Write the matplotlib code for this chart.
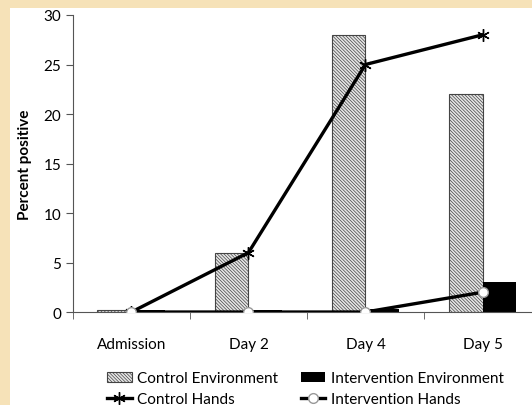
import matplotlib
matplotlib.use("Agg")
import matplotlib.pyplot as plt
from matplotlib.lines import Line2D
from matplotlib.patches import Patch, Rectangle
import numpy as np

plt.rcParams['font.family'] = ['Lato', 'DejaVu Sans']
plt.rcParams['hatch.linewidth'] = 0.5
plt.rcParams['hatch.color'] = '#333333'

days = ["Admission", "Day 2", "Day 4", "Day 5"]
control_env = [0.2, 6, 28, 22]
interv_env = [0.2, 0.2, 0.3, 3]
control_hands = [0, 6, 25, 28]
interv_hands = [0, 0, 0, 2]

fig = plt.figure(figsize=(5.32, 4.06), dpi=100)
fig.patch.set_facecolor('#f6e2b8')
# white card behind the chart
fig.add_artist(Rectangle((0.019, 0), 0.981, 0.978, transform=fig.transFigure,
                         facecolor='white', edgecolor='none', zorder=0))

ax = fig.add_axes([0.137, 0.229, 0.88, 0.7316])
ax.set_facecolor('none')

HATCH = '\\' * 10
x = np.arange(len(days))
w = 0.29
ax.bar(x - w / 2, control_env, w, facecolor='#e6e6e6', edgecolor='#444444',
       hatch=HATCH, linewidth=0.8, zorder=2)
ax.bar(x + w / 2, interv_env, w, color='black', zorder=2)
ax.plot(x, control_hands, color='black', lw=2.4, marker=(6, 2, 0), ms=9,
        mew=1.0, zorder=3)
ax.plot(x, interv_hands, color='black', lw=2.4, marker='o', ms=7,
        mfc='white', mec='#999999', mew=1.0, zorder=4)

ax.set_xlim(-0.5, 3.5)
ax.set_ylim(0, 30)
ax.set_yticks(range(0, 31, 5))
ax.set_xticks(x)
ax.set_xticklabels(days)
ax.set_xticks(np.arange(-0.5, 3.6, 1), minor=True)
ax.tick_params(axis='x', which='major', length=0, pad=18, labelsize=11)
ax.tick_params(axis='x', which='minor', length=5, color='#555555')
ax.tick_params(axis='y', length=5, labelsize=11, color='#555555')
for s in ('top', 'right'):
    ax.spines[s].set_visible(False)
ax.spines['left'].set_color('#555555')
ax.spines['bottom'].set_color('#555555')
ax.set_ylabel("Percent positive", fontweight='bold', fontsize=11, labelpad=8)

# row-major order: environment patches on top, hands lines below
handles = [
    Patch(facecolor='#e6e6e6', edgecolor='#444444', hatch=HATCH, linewidth=0.8),
    Line2D([], [], color='black', lw=2.4, marker=(6, 2, 0), ms=9),
    Patch(facecolor='black'),
    Line2D([], [], color='black', lw=2.4, marker='o', ms=7, mfc='white', mec='#999999'),
]
labels = ["Control Environment", "Control Hands",
          "Intervention Environment", "Intervention Hands"]
fig.legend(handles, labels, ncol=2, loc='upper left', bbox_to_anchor=(0.19, 0.098),
           frameon=False, fontsize=11, handlelength=1.6, handletextpad=0.35,
           columnspacing=1.5, labelspacing=0.45, borderaxespad=0)

fig.savefig("out.png", dpi=100, facecolor=fig.get_facecolor())
